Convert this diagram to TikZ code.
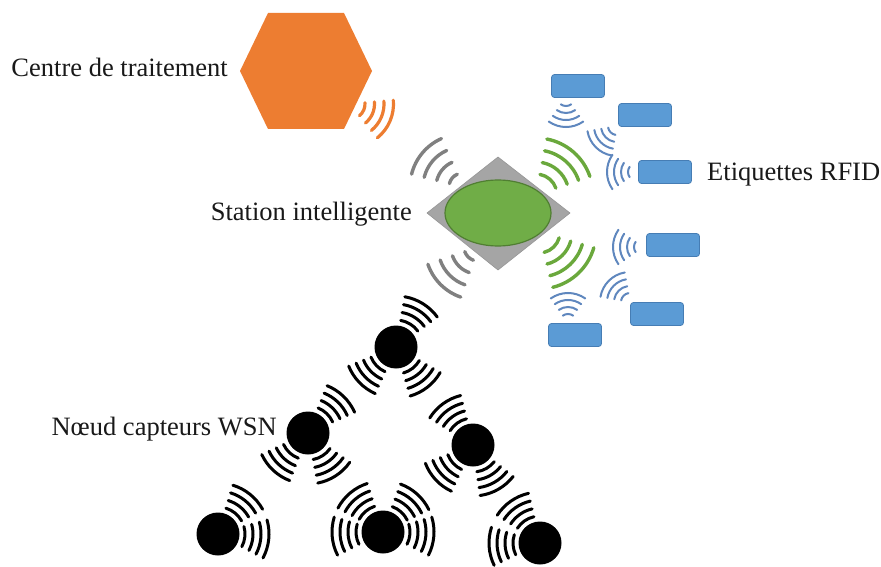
\documentclass[tikz,border=0pt]{standalone}
\usepackage{fontspec}
\setmainfont{Liberation Serif}
\usetikzlibrary{shapes.geometric}
\definecolor{hexorange}{RGB}{237,125,49}
\definecolor{diagray}{RGB}{165,165,165}
\definecolor{diaedge}{RGB}{150,150,150}
\definecolor{ellgreen}{RGB}{112,173,71}
\definecolor{elledge}{RGB}{80,126,50}
\definecolor{wavegreen}{RGB}{106,168,60}
\definecolor{wavegray}{RGB}{128,128,128}
\definecolor{tagblue}{RGB}{91,155,213}
\definecolor{tagedge}{RGB}{70,125,180}
\definecolor{waveblue}{RGB}{95,135,190}
\newcommand\wavesgrp[6]{%
  \foreach \k in {0,1,2,3}{%
    \pgfmathsetmacro\rr{#3+\k*#4}%
    \draw[#6, shift={(#1)}] (#2-#5:\rr) arc[start angle=#2-#5, end angle=#2+#5, radius=\rr];
  }%
}
\begin{document}
\begin{tikzpicture}[x=1pt,y=-1pt,
  lbl/.style={font=\fontsize{26.5}{30}\selectfont, inner sep=0pt, text=black!90},
  tagbox/.style={rectangle, rounded corners=3pt, minimum width=53pt, minimum height=23pt, fill=tagblue, draw=tagedge, line width=0.8pt, inner sep=0pt},
  wsn/.style={circle, fill=black, minimum size=43pt, inner sep=0pt},
  wsnwave/.style={line width=3pt, black, line cap=round},
  graywave/.style={line width=3.4pt, wavegray, line cap=round},
  greenwave/.style={line width=3.4pt, wavegreen, line cap=round},
  orangewave/.style={line width=3.2pt, hexorange, line cap=round},
  bluewave/.style={line width=2pt, waveblue, line cap=round}]
\useasboundingbox (0,0) rectangle (881,567);
\fill[white] (0,0) rectangle (881,567);

% processing centre
\fill[hexorange] (240,71) -- (268,13) -- (344,13) -- (372,71) -- (344,129) -- (268,129) -- cycle;
\coordinate (hex) at (306,71);
\coordinate (hexw) at (350,104);
\wavesgrp{hexw}{23}{15}{9.5}{28}{orangewave}

% smart station
\filldraw[fill=diagray, draw=diaedge, line width=0.6pt] (427,213) -- (498,157) -- (570,213) -- (498,270) -- cycle;
\node[ellipse, minimum width=106pt, minimum height=66pt, inner sep=0pt, fill=ellgreen, draw=elledge, line width=1.2pt] (st) at (498,213) {};
\coordinate (stTL) at (463,187);
\coordinate (stBL) at (478,247);
\coordinate (stTR) at (536,195);
\coordinate (stBR) at (539,232);
\wavesgrp{stTL}{-140}{14}{13}{26}{graywave}
\wavesgrp{stBL}{135}{14}{13}{26}{graywave}
\wavesgrp{stTR}{-49}{21}{12}{30}{greenwave}
\wavesgrp{stBR}{46}{21}{12}{30}{greenwave}

% RFID tags
\node[tagbox] (T1) at (578,86) {};
\node[tagbox] (T2) at (645,115) {};
\node[tagbox] (T3) at (665,172) {};
\node[tagbox] (T4) at (673,245) {};
\node[tagbox] (T5) at (657,314) {};
\node[tagbox] (T6) at (575,335) {};
\coordinate (w1) at (566,97);
\coordinate (w2) at (617,126);
\coordinate (w3) at (637,172);
\coordinate (w4) at (643,247);
\coordinate (w5) at (630,302);
\coordinate (w6) at (568,323);
\wavesgrp{w1}{90}{9}{7}{35}{bluewave}
\wavesgrp{w2}{135}{9}{7}{35}{bluewave}
\wavesgrp{w3}{180}{9}{7}{35}{bluewave}
\wavesgrp{w4}{180}{9}{7}{35}{bluewave}
\wavesgrp{w5}{-135}{9}{7}{35}{bluewave}
\wavesgrp{w6}{-90}{9}{7}{35}{bluewave}

% WSN nodes
\node[wsn] (N1) at (396,347) {};
\node[wsn] (N2) at (308,433) {};
\node[wsn] (N3) at (473,445) {};
\node[wsn] (N4) at (218,534) {};
\node[wsn] (N5) at (383,532) {};
\node[wsn] (N6) at (540,543) {};
\wavesgrp{N1}{-58}{27}{8}{22}{wsnwave}
\wavesgrp{N1}{136}{27}{8}{22}{wsnwave}
\wavesgrp{N1}{52}{27}{8}{22}{wsnwave}
\wavesgrp{N2}{-46}{27}{8}{22}{wsnwave}
\wavesgrp{N2}{133}{27}{8}{22}{wsnwave}
\wavesgrp{N2}{57}{27}{8}{22}{wsnwave}
\wavesgrp{N3}{-126}{27}{8}{22}{wsnwave}
\wavesgrp{N3}{137}{27}{8}{22}{wsnwave}
\wavesgrp{N3}{60}{27}{8}{22}{wsnwave}
\wavesgrp{N4}{-51}{27}{8}{22}{wsnwave}
\wavesgrp{N4}{6}{27}{8}{22}{wsnwave}
\wavesgrp{N5}{-130}{27}{8}{22}{wsnwave}
\wavesgrp{N5}{-48}{27}{8}{22}{wsnwave}
\wavesgrp{N5}{175}{27}{8}{22}{wsnwave}
\wavesgrp{N5}{5}{27}{8}{22}{wsnwave}
\wavesgrp{N6}{-125}{27}{8}{22}{wsnwave}
\wavesgrp{N6}{176}{27}{8}{22}{wsnwave}

% labels
\node[lbl, anchor=base east] (lblC) at (228,77) {Centre de traitement};
\node[lbl, anchor=base east] (lblS) at (412,220) {Station intelligente};
\node[lbl, anchor=base west] (lblE) at (707,181) {Etiquettes RFID};
\node[lbl, anchor=base east] (lblN) at (277,435) {Nœud capteurs WSN};
\end{tikzpicture}
\end{document}
